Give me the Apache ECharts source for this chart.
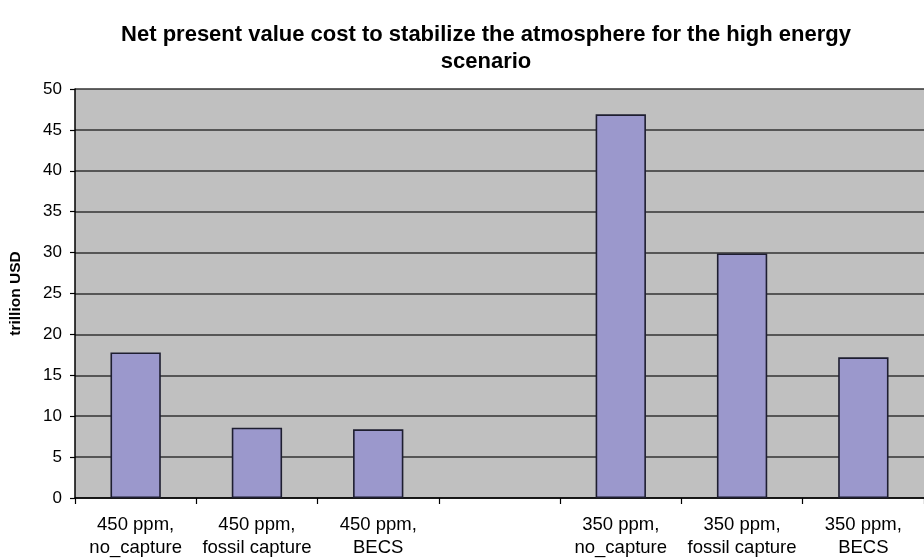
<!DOCTYPE html>
<html>
<head>
<meta charset="utf-8">
<script src="https://cdn.jsdelivr.net/npm/echarts@6/dist/echarts.min.js"></script>
<style>
html,body{margin:0;padding:0;background:#fff;}
#c{width:924px;height:560px;}
</style>
</head>
<body>
<div id="c"></div>
<script>
var categories = ['450 ppm,\nno_capture', '450 ppm,\nfossil capture', '450 ppm,\nBECS', '', '350 ppm,\nno_capture', '350 ppm,\nfossil capture', '350 ppm,\nBECS'];
var values = [17.8, 8.6, 8.4, '-', 46.9, 29.9, 17.2];
var yTicks = {min: 0, max: 50, interval: 5};
var titleText = 'Net present value cost to stabilize the atmosphere for the high energy\nscenario';
var yName = 'trillion USD';

var chart = echarts.init(document.getElementById('c'), null, {renderer: 'canvas'});
var font = 'Liberation Sans, Arial, sans-serif';
chart.setOption({
  animation: false,
  backgroundColor: '#ffffff',
  title: {
    text: titleText,
    left: 481,
    top: 16,
    textAlign: 'center',
    textStyle: {fontFamily: font, fontSize: 22, fontWeight: 'bold', color: '#000', lineHeight: 27}
  },
  grid: {left: 75, right: -10, top: 89, bottom: 60, show: true, backgroundColor: '#c0c0c0', borderWidth: 0},
  xAxis: {
    type: 'category',
    data: categories,
    boundaryGap: true,
    axisLine: {lineStyle: {color: '#000', width: 1.5}},
    axisTick: {show: true, interval: 0, length: 6, lineStyle: {color: '#000', width: 1.2}},
    axisLabel: {interval: 0, margin: 15, fontFamily: font, fontSize: 18.5, lineHeight: 23.5, color: '#000'}
  },
  yAxis: {
    type: 'value',
    min: yTicks.min, max: yTicks.max, interval: yTicks.interval,
    name: yName,
    nameLocation: 'middle',
    nameRotate: 90,
    nameGap: 51,
    nameTextStyle: {fontFamily: font, fontSize: 15.5, fontWeight: 'bold', color: '#000'},
    axisLine: {show: true, lineStyle: {color: '#000', width: 1.5}},
    axisTick: {show: true, length: 5, lineStyle: {color: '#000', width: 1.2}},
    axisLabel: {margin: 13, fontFamily: font, fontSize: 17, color: '#000'},
    splitLine: {show: true, lineStyle: {color: '#333333', width: 1.6}}
  },
  series: [{
    type: 'bar',
    data: values,
    barWidth: '41.5%',
    itemStyle: {color: '#9b98cc', borderColor: '#1e1e30', borderWidth: 1.6}
  }]
});
</script>
</body>
</html>
